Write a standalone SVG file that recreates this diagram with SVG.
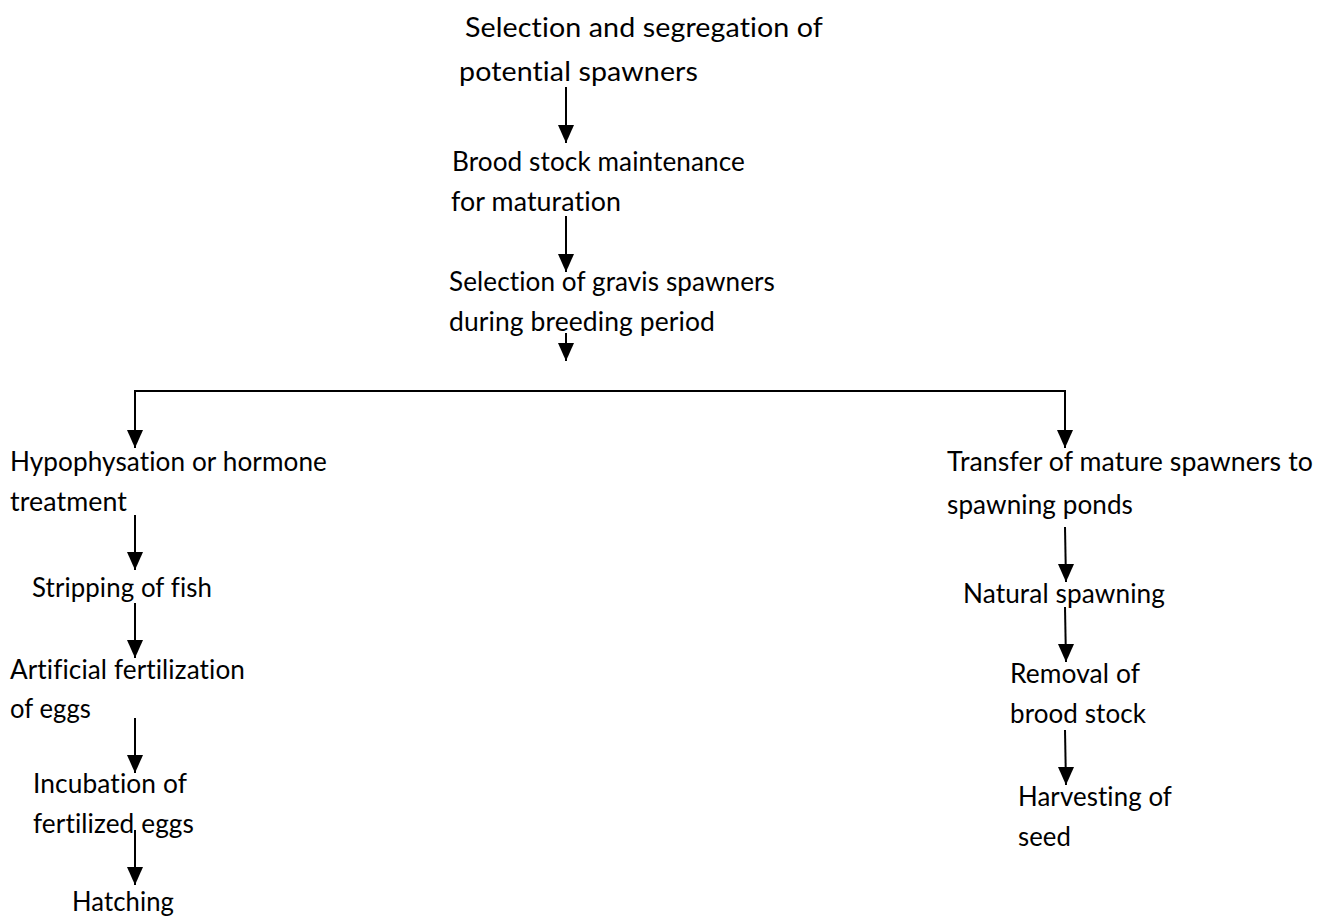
<svg xmlns="http://www.w3.org/2000/svg" width="1330" height="916" viewBox="0 0 1330 916">
<defs>
<style>
text{font-family:Lato,"Open Sans","Liberation Sans",sans-serif;font-size:26px;fill:#000;font-variant-ligatures:no-common-ligatures no-discretionary-ligatures no-contextual;font-feature-settings:"liga" 0,"clig" 0,"dlig" 0,"calt" 0;letter-spacing:0.1px;}
.c line{stroke:#000;stroke-width:2;fill:none;}
</style>
<marker id="ahd" markerUnits="userSpaceOnUse" markerWidth="16" markerHeight="18" viewBox="0 0 16 18" refX="8" refY="18" orient="0">
<path d="M0,0 L16,0 L8,18 Z" fill="#000"/>
</marker>
</defs>
<rect width="1330" height="916" fill="#fff"/>
<g id="n1"><text x="465" y="37" textLength="358" lengthAdjust="spacingAndGlyphs">Selection and segregation of</text><text x="459" y="81" textLength="239" lengthAdjust="spacingAndGlyphs">potential spawners</text></g>
<g id="n2"><text x="452" y="171" textLength="293" lengthAdjust="spacingAndGlyphs">Brood stock maintenance</text><text x="451" y="211" textLength="170" lengthAdjust="spacingAndGlyphs">for maturation</text></g>
<g id="n3"><text x="449" y="291" textLength="326" lengthAdjust="spacingAndGlyphs">Selection of gravis spawners</text><text x="449" y="331" textLength="266" lengthAdjust="spacingAndGlyphs">during breeding period</text></g>
<g id="n4"><text x="10" y="471" textLength="317" lengthAdjust="spacingAndGlyphs">Hypophysation or hormone</text><text x="10" y="511" textLength="117" lengthAdjust="spacingAndGlyphs">treatment</text></g>
<g id="n5"><text x="32" y="597" textLength="180" lengthAdjust="spacingAndGlyphs">Stripping of fish</text></g>
<g id="n6"><text x="10" y="679" textLength="235" lengthAdjust="spacingAndGlyphs">Artificial fertilization</text><text x="10" y="718" textLength="81" lengthAdjust="spacingAndGlyphs">of eggs</text></g>
<g id="n7"><text x="33" y="793" textLength="154" lengthAdjust="spacingAndGlyphs">Incubation of</text><text x="33" y="833" textLength="161" lengthAdjust="spacingAndGlyphs">fertilized eggs</text></g>
<g id="n8"><text x="72" y="911" textLength="102" lengthAdjust="spacingAndGlyphs">Hatching</text></g>
<g id="n9"><text x="947" y="471" textLength="366" lengthAdjust="spacingAndGlyphs">Transfer of mature spawners to</text><text x="947" y="514" textLength="186" lengthAdjust="spacingAndGlyphs">spawning ponds</text></g>
<g id="n10"><text x="963" y="603" textLength="202" lengthAdjust="spacingAndGlyphs">Natural spawning</text></g>
<g id="n11"><text x="1010" y="683" textLength="130" lengthAdjust="spacingAndGlyphs">Removal of</text><text x="1010" y="723" textLength="136" lengthAdjust="spacingAndGlyphs">brood stock</text></g>
<g id="n12"><text x="1018" y="806" textLength="154" lengthAdjust="spacingAndGlyphs">Harvesting of</text><text x="1018" y="846" textLength="53" lengthAdjust="spacingAndGlyphs">seed</text></g>
<g id="connectors" class="c">
<line x1="566" y1="87" x2="566" y2="143" marker-end="url(#ahd)"/>
<line x1="566" y1="216" x2="566" y2="272" marker-end="url(#ahd)"/>
<line x1="566" y1="333" x2="566" y2="361" marker-end="url(#ahd)"/>
<line x1="134" y1="391" x2="1066" y2="391"/>
<line x1="135" y1="390" x2="135" y2="448" marker-end="url(#ahd)"/>
<line x1="1065" y1="390" x2="1065" y2="448" marker-end="url(#ahd)"/>
<line x1="135" y1="515" x2="135" y2="570" marker-end="url(#ahd)"/>
<line x1="135" y1="603" x2="135" y2="658" marker-end="url(#ahd)"/>
<line x1="135" y1="718" x2="135" y2="773" marker-end="url(#ahd)"/>
<line x1="135" y1="830" x2="135" y2="885" marker-end="url(#ahd)"/>
<line x1="1065" y1="527" x2="1066" y2="582" marker-end="url(#ahd)"/>
<line x1="1065" y1="607" x2="1066" y2="662" marker-end="url(#ahd)"/>
<line x1="1065" y1="730" x2="1066" y2="785" marker-end="url(#ahd)"/>
</g>
</svg>
